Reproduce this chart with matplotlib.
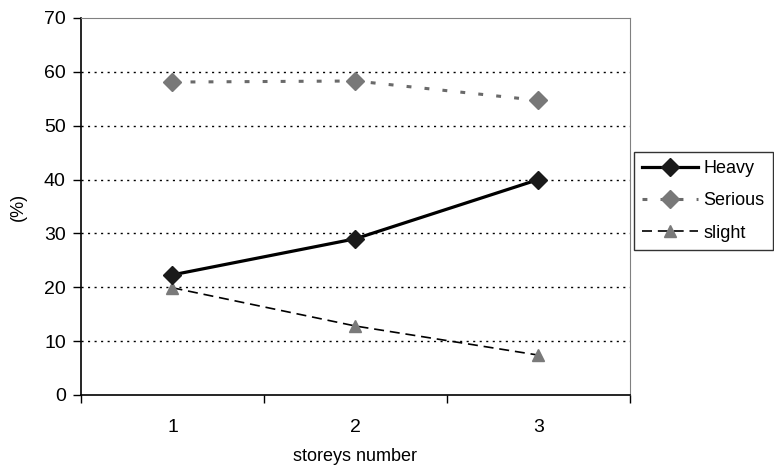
import matplotlib.pyplot as plt

plt.rcParams['font.family'] = ['Liberation Sans', 'DejaVu Sans']

storeys = [1, 2, 3]
heavy = [22.3, 29.0, 40.0]
serious = [58.1, 58.3, 54.7]
slight = [19.9, 12.8, 7.4]

fig = plt.figure(figsize=(7.74, 4.73), dpi=100)
ax = fig.add_axes([0.1047, 0.165, 0.709, 0.797])

ax.plot(storeys, heavy, color='black', lw=2.3, marker='D', ms=9,
        mfc='#1a1a1a', mec='#1a1a1a', label='Heavy', zorder=4)
ax.plot(storeys, serious, color='#6a6a6a', lw=2.2, ls=(0, (1.6, 4.3)), marker='D', ms=9.5,
        mfc='#787878', mec='#787878', label='Serious', zorder=3)
ax.plot(storeys, slight, color='black', lw=1.2, ls=(0, (6, 3.5)), marker='^', ms=8,
        mfc='#7a7a7a', mec='#7a7a7a', label='slight', zorder=3)

ax.set_xlim(0.5, 3.5)
ax.set_ylim(0, 70)
ax.set_yticks(range(0, 80, 10))
ax.set_xticks([0.5, 1.5, 2.5, 3.5])
ax.set_xticklabels([])
ax.set_xticks(storeys, minor=True)
ax.set_xticklabels([str(s) for s in storeys], minor=True)
ax.tick_params(axis='x', which='major', direction='out', length=6, width=1)
ax.tick_params(axis='x', which='minor', length=0, pad=17, labelsize=14)
ax.tick_params(axis='y', direction='out', length=6, width=1, labelsize=14, pad=5)

for y in range(10, 70, 10):
    ax.axhline(y, color='black', lw=1, ls=(0, (1.5, 3.2)), zorder=1)

ax.spines['top'].set_color('#808080')
ax.spines['right'].set_color('#808080')
ax.spines['left'].set_linewidth(1.2)
ax.spines['bottom'].set_linewidth(1.2)

ax.set_xlabel('storeys number', fontsize=13, labelpad=9)
ax.set_ylabel('(%)', fontsize=13, labelpad=12)

leg = fig.legend(loc='upper left', bbox_to_anchor=(0.819, 0.679), fontsize=13,
                 frameon=True, fancybox=False, handlelength=3.1, borderpad=0.45,
                 labelspacing=0.85, handletextpad=0.3, borderaxespad=0)
leg.get_frame().set_edgecolor('black')
leg.get_frame().set_linewidth(1)

fig.savefig('out.png', dpi=100)
